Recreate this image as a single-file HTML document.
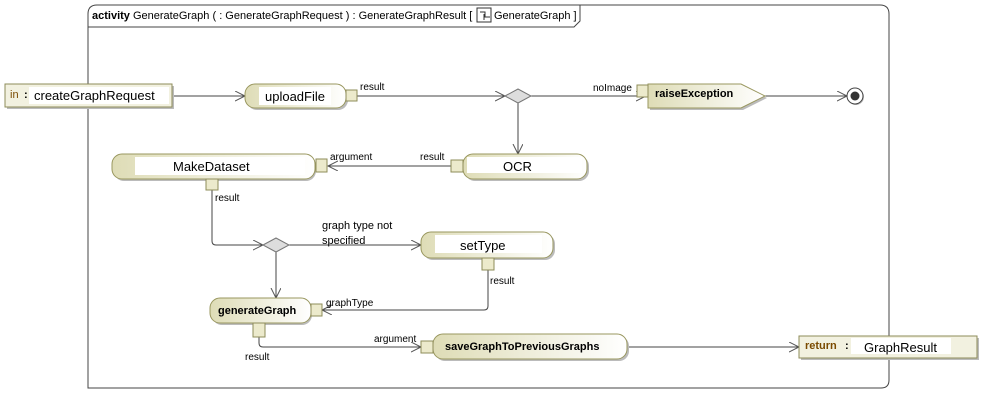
<!DOCTYPE html>
<html><head><meta charset="utf-8"><style>
html,body{margin:0;padding:0;background:#fff}
svg{display:block;font-family:"Liberation Sans",Arial,sans-serif}
</style></head><body>
<svg width="1003" height="414" viewBox="0 0 1003 414" xmlns="http://www.w3.org/2000/svg">
<defs>
<linearGradient id="g" x1="0" y1="0" x2="1" y2="0"><stop offset="0" stop-color="#dedcb6"/><stop offset="1" stop-color="#ffffff"/></linearGradient>
<marker id="a" markerWidth="12" markerHeight="12" refX="10" refY="5" orient="auto" markerUnits="userSpaceOnUse"><path d="M0,0 L10,5 L0,10" fill="none" stroke="#555" stroke-width="1"/></marker>
</defs>
<!-- frame -->
<path d="M88,388 V14 Q88,5 97,5 H880 Q889,5 889,14 V380 Q889,388 881,388 Z" fill="none" stroke="#444" stroke-width="1"/>
<path d="M88,27 H574 L580,21 V5" fill="none" stroke="#444"/>
<text x="92" y="19" font-size="11"><tspan font-weight="bold">activity</tspan> GenerateGraph (  : GenerateGraphRequest ) : GenerateGraphResult [ </text>
<rect x="477" y="8" width="14" height="14" fill="#fff" stroke="#333"/>
<path d="M480,12 h5 v5 h5 M484,14 v6" stroke="#333" fill="none"/>
<text x="494" y="19" font-size="11">GenerateGraph ]</text>

<g stroke="#444" fill="none" stroke-width="1">
<path d="M172,96 H245" marker-end="url(#a)"/>
<path d="M357,96 H505" marker-end="url(#a)"/>
<path d="M531,96 H646" marker-end="url(#a)"/>
<path d="M765,96 H847" marker-end="url(#a)"/>
<path d="M518,103 V154" marker-end="url(#a)"/>
<path d="M451,166 H328" marker-end="url(#a)"/>
<path d="M212,190 V241 Q212,245 216,245 H263" marker-end="url(#a)"/>
<path d="M289,245 H421" marker-end="url(#a)"/>
<path d="M276,252 V298" marker-end="url(#a)"/>
<path d="M488,270 V306 Q488,310 484,310 H322" marker-end="url(#a)"/>
<path d="M259,337 V343 Q259,347 263,347 H421" marker-end="url(#a)"/>
<path d="M627,347 H799" marker-end="url(#a)"/>
</g>

<!-- in param -->
<rect x="7" y="86" width="167" height="23" fill="#bbb"/>
<rect x="5" y="84" width="167" height="23" fill="#f2f1e0" stroke="#8e8c5a"/>
<rect x="29" y="87" width="140" height="17" fill="#fff"/>
<text x="10" y="98" font-size="11" fill="#7a4a00">in</text>
<text x="24" y="98" font-size="11" font-weight="bold">:</text>
<text x="34" y="100" font-size="13">createGraphRequest</text>

<!-- uploadFile -->
<rect x="247" y="86" width="101" height="24" rx="10" fill="#bbb"/>
<rect x="245" y="84" width="101" height="24" rx="10" fill="url(#g)" stroke="#99975f"/>
<rect x="259" y="87" width="72" height="18" fill="#fff"/>
<text x="265" y="101" font-size="13">uploadFile</text>
<rect x="346" y="90" width="11" height="11" fill="#eceacc" stroke="#8e8c5a"/>
<text x="360" y="90" font-size="10">result</text>

<!-- diamond 1 -->
<path d="M505,96 L518,89 L531,96 L518,103 Z" fill="#ddd" stroke="#777"/>
<text x="593" y="91" font-size="10">noImage</text>

<!-- raiseException -->
<path d="M650,86 H743 L767,98 L743,110 H650 Z" fill="#bbb"/>
<path d="M648,84 H741 L765,96 L741,108 H648 Z" fill="url(#g)" stroke="#99975f"/>
<rect x="637" y="85" width="11" height="12" fill="#eceacc" stroke="#8e8c5a"/>
<text x="655" y="97" font-size="11" font-weight="bold">raiseException</text>
<circle cx="856" cy="97" r="8" fill="#bbb"/>
<circle cx="855" cy="96" r="8" fill="#fff" stroke="#444"/>
<circle cx="855" cy="96" r="4.5" fill="#333"/>

<!-- OCR -->
<rect x="465" y="156" width="124" height="25" rx="10" fill="#bbb"/>
<rect x="463" y="154" width="124" height="25" rx="10" fill="url(#g)" stroke="#99975f"/>
<rect x="467" y="157" width="115" height="16" fill="#fff"/>
<text x="503" y="171" font-size="13">OCR</text>
<rect x="451" y="160" width="12" height="12" fill="#eceacc" stroke="#8e8c5a"/>
<text x="420" y="160" font-size="10">result</text>

<!-- MakeDataset -->
<rect x="114" y="156" width="202" height="25" rx="10" fill="#bbb"/>
<rect x="112" y="154" width="203" height="25" rx="10" fill="url(#g)" stroke="#99975f"/>
<rect x="135" y="157" width="170" height="18" fill="#fff"/>
<text x="173" y="171" font-size="13">MakeDataset</text>
<rect x="316" y="159" width="11" height="13" fill="#eceacc" stroke="#8e8c5a"/>
<text x="330" y="160" font-size="10">argument</text>
<rect x="206" y="179" width="12" height="11" fill="#eceacc" stroke="#8e8c5a"/>
<text x="215" y="201" font-size="10">result</text>

<!-- diamond 2 -->
<path d="M263,245 L276,238 L289,245 L276,252 Z" fill="#ddd" stroke="#777"/>
<text x="322" y="229" font-size="11">graph type not</text>
<text x="322" y="244" font-size="11">specified</text>

<!-- setType -->
<rect x="423" y="234" width="132" height="26" rx="10" fill="#bbb"/>
<rect x="421" y="232" width="132" height="26" rx="10" fill="url(#g)" stroke="#99975f"/>
<rect x="435" y="235" width="107" height="18" fill="#fff"/>
<text x="460" y="250" font-size="13">setType</text>
<rect x="482" y="258" width="12" height="12" fill="#eceacc" stroke="#8e8c5a"/>
<text x="490" y="284" font-size="10">result</text>

<!-- generateGraph -->
<rect x="212" y="300" width="100" height="25" rx="10" fill="#bbb"/>
<rect x="210" y="298" width="101" height="25" rx="10" fill="url(#g)" stroke="#99975f"/>
<text x="218" y="314" font-size="11" font-weight="bold">generateGraph</text>
<rect x="311" y="304" width="11" height="12" fill="#eceacc" stroke="#8e8c5a"/>
<text x="326" y="306" font-size="10">graphType</text>
<rect x="253" y="323" width="12" height="14" fill="#eceacc" stroke="#8e8c5a"/>
<text x="245" y="360" font-size="10">result</text>

<!-- saveGraph -->
<rect x="435" y="336" width="194" height="25" rx="10" fill="#bbb"/>
<rect x="433" y="334" width="194" height="25" rx="10" fill="url(#g)" stroke="#99975f"/>
<text x="445" y="350" font-size="11" font-weight="bold">saveGraphToPreviousGraphs</text>
<rect x="421" y="341" width="12" height="12" fill="#eceacc" stroke="#8e8c5a"/>
<text x="374" y="342" font-size="10">argument</text>

<!-- return param -->
<rect x="801" y="338" width="178" height="22" fill="#bbb"/>
<rect x="799" y="336" width="178" height="22" fill="#f2f1e0" stroke="#8e8c5a"/>
<rect x="851" y="338" width="100" height="16" fill="#fff"/>
<text x="805" y="349" font-size="11" font-weight="bold" fill="#7a4a00">return</text>
<text x="845" y="349" font-size="11" font-weight="bold">:</text>
<text x="864" y="352" font-size="13">GraphResult</text>
</svg>
</body></html>
